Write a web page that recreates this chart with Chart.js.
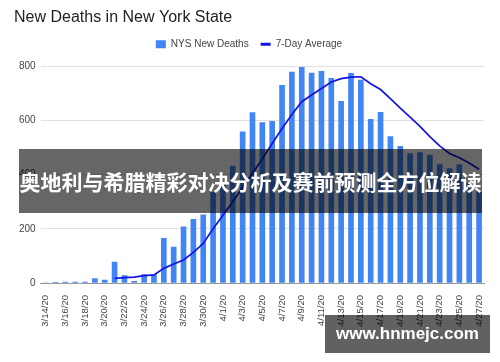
<!DOCTYPE html>
<html lang="en">
<head>
    <meta charset="UTF-8">
    <title>New Deaths in New York State</title>
    <script src="https://cdn.jsdelivr.net/npm/chart.js"></script>
    <style>
        body {
            margin: 0;
            background: #fff;
        }
        .wrap {
            position: relative;
            width: 500px;
            height: 362px;
        }
        .banner {
            position: absolute;
            left: 19px;
            top: 149px;
            width: 463px;
            height: 64px;
            background: rgba(0, 0, 0, 0.6);
            color: #fff;
            font-family: "Noto Sans CJK SC", sans-serif;
            font-weight: bold;
            font-size: 21px;
            line-height: 64px;
            text-align: center;
            white-space: nowrap;
        }
        .mark {
            position: absolute;
            left: 325px;
            top: 315px;
            width: 165px;
            height: 38px;
            background: rgba(0, 0, 0, 0.62);
            color: #fff;
            font-family: "Liberation Sans", Arial, sans-serif;
            font-weight: bold;
            font-size: 17px;
            line-height: 38px;
            text-align: center;
        }
    </style>
</head>
<body>
    <div class="wrap">
        <canvas id="deathsChart" width="500" height="362"></canvas>
        <div class="banner">奥地利与希腊精彩对决分析及赛前预测全方位解读</div>
        <div class="mark">www.hnmejc.com</div>
    </div>

    <script>
        const dates = [
            '3/14/20', '3/15/20', '3/16/20', '3/17/20', '3/18/20', '3/19/20', '3/20/20', '3/21/20',
            '3/22/20', '3/23/20', '3/24/20', '3/25/20', '3/26/20', '3/27/20', '3/28/20', '3/29/20',
            '3/30/20', '3/31/20', '4/1/20', '4/2/20', '4/3/20', '4/4/20', '4/5/20', '4/6/20',
            '4/7/20', '4/8/20', '4/9/20', '4/10/20', '4/11/20', '4/12/20', '4/13/20', '4/14/20',
            '4/15/20', '4/16/20', '4/17/20', '4/18/20', '4/19/20', '4/20/20', '4/21/20', '4/22/20',
            '4/23/20', '4/24/20', '4/25/20', '4/26/20', '4/27/20'
        ];
        const newDeaths = [
            0, 1, 3, 3, 3, 16, 11, 77, 27, 6, 31, 30, 165, 133, 207, 235,
            252, 335, 368, 431, 558, 629, 592, 597, 729, 778, 796, 775, 781, 755, 670, 774,
            749, 604, 630, 540, 504, 478, 481, 472, 437, 422, 437, 368, 337
        ];
        const sevenDayAvg = [
            null, null, null, null, null, null, null, 17, 20, 22, 27, 30, 54, 70, 85, 113,
            146, 200, 250, 300, 352, 405, 458, 515, 570, 622, 669, 694, 718, 742, 754, 760,
            761, 735, 714, 680, 645, 612, 578, 540, 506, 478, 462, 443, 420
        ];
        const yTicks = [0, 200, 400, 600, 800];

        Chart.defaults.font.family = "'Liberation Sans', Arial, sans-serif";
        Chart.defaults.color = '#444';

        // push the plot down a bit below the legend
        const legendGap = {
            id: 'legendGap',
            beforeInit(chart) {
                const fit = chart.legend.fit;
                chart.legend.fit = function () {
                    fit.bind(chart.legend)();
                    this.height += 7;
                };
            }
        };

        const ctx = document.getElementById('deathsChart').getContext('2d');
        new Chart(ctx, {
            data: {
                labels: dates,
                datasets: [{
                    type: 'line',
                    label: '7-Day Average',
                    data: sevenDayAvg,
                    borderColor: '#1414e0',
                    backgroundColor: '#1414e0',
                    borderWidth: 1.7,
                    pointRadius: 0,
                    pointStyle: 'line',
                    tension: 0,
                    order: 1
                }, {
                    type: 'bar',
                    label: 'NYS New Deaths',
                    data: newDeaths,
                    backgroundColor: '#4285f4',
                    borderWidth: 0,
                    barThickness: 5,
                    pointStyle: 'rect',
                    order: 2
                }]
            },
            options: {
                responsive: false,
                animation: false,
                layout: {
                    padding: { left: 14, right: 16, top: 0, bottom: 0 }
                },
                plugins: {
                    title: {
                        display: true,
                        text: 'New Deaths in New York State',
                        align: 'start',
                        color: '#222',
                        font: { size: 16, weight: 'normal' },
                        padding: { top: 8, bottom: 0 }
                    },
                    legend: {
                        reverse: true,
                        labels: {
                            usePointStyle: true,
                            boxHeight: 8,
                            pointStyleWidth: 10,
                            padding: 12,
                            color: '#444',
                            font: { size: 10 },
                            generateLabels: chart => {
                                const items = Chart.defaults.plugins.legend.labels.generateLabels(chart);
                                items.forEach(it => {
                                    if (it.pointStyle === 'line') it.lineWidth = 3;
                                });
                                return items;
                            }
                        }
                    },
                    tooltip: { enabled: false }
                },
                scales: {
                    x: {
                        offset: true,
                        grid: { display: false },
                        border: { color: '#999' },
                        ticks: {
                            autoSkip: false,
                            maxRotation: 90,
                            minRotation: 90,
                            padding: 4,
                            font: { size: 9.5 },
                            callback: (v, i) => (i % 2 === 0 ? dates[i] : '')
                        },
                        afterFit: scale => { scale.height = 79; }
                    },
                    y: {
                        min: 0,
                        max: 800,
                        afterBuildTicks: scale => {
                            scale.ticks = yTicks.map(v => ({ value: v }));
                        },
                        grid: { color: '#e0e0e0', drawTicks: false },
                        border: { display: false },
                        ticks: {
                            padding: 5,
                            font: { size: 10 }
                        }
                    }
                }
            },
            plugins: [legendGap]
        });
    </script>
</body>
</html>
